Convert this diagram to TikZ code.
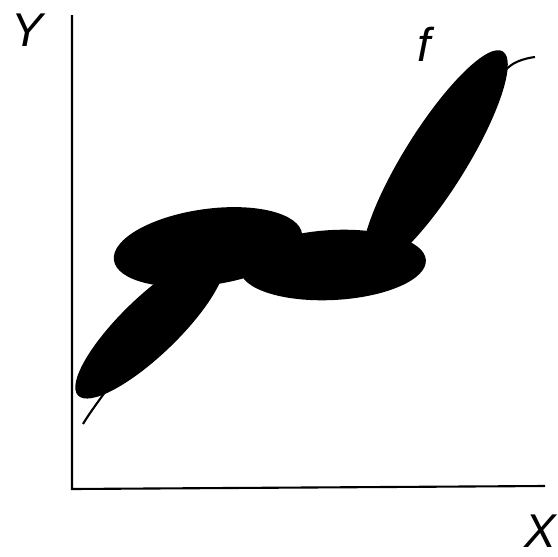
\documentclass[tikz,border=0pt]{standalone}
\usepackage{fontspec}
\setmainfont{Liberation Sans}
\usepackage{tikz}
\usetikzlibrary{positioning}

\begin{document}
\begin{tikzpicture}[x=0.02cm,y=0.02cm,
  axis/.style={line width=1.2pt},
  blob/.style={fill=black},
  lbl/.style={font=\fontsize{27}{27}\selectfont\itshape,inner sep=0pt}]
\useasboundingbox (0,0) rectangle (558,556);

% axes
\coordinate (top) at (72,541);
\coordinate (orig) at (72,67);
\coordinate (right) at (545,70);
\draw[axis] (top) -- (orig) -- (right);

% the function f
\draw[line width=1.2pt] plot[smooth] coordinates {(83,132) (95,150) (150,226) (208,306) (333,291) (400,336) (470,446) (510,490) (535,499)};

% uncertainty blobs
\coordinate (e1) at (150,230);
\coordinate (e2) at (208,309);
\coordinate (e3) at (333,291);
\coordinate (e4) at (435,396);
\fill[blob,shift={(e1)},rotate=44] (0,0) ellipse [x radius=100,y radius=29];
\fill[blob,shift={(e4)},rotate=58] (0,0) ellipse [x radius=128,y radius=31];
\fill[blob,shift={(e2)},rotate=8] (0,0) ellipse [x radius=95,y radius=38];
\fill[blob,shift={(e3)},rotate=3] (0,0) ellipse [x radius=93,y radius=35];

% labels
\node[lbl] (ylab) at (27,526) {Y};
\node[lbl] (xlab) at (540,25) {X};
\node[lbl] (flab) at (424,512) {f};
\end{tikzpicture}
\end{document}
